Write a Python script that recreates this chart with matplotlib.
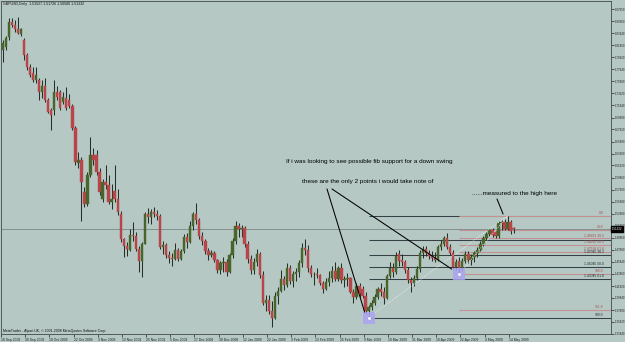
import matplotlib
matplotlib.use("Agg")
import matplotlib.pyplot as plt
import matplotlib.transforms as mtransforms
from matplotlib.patches import Rectangle

plt.rcParams['font.family'] = ['Liberation Sans', 'DejaVu Sans']

# GBPUSD daily candles, 18 Sep 2008 .. 15 May 2009
opens = [1.8115, 1.8164, 1.8330, 1.8580, 1.8530, 1.8463, 1.8380, 1.8280, 1.8031, 1.7832,
         1.7733, 1.7617, 1.7617, 1.7418, 1.7517, 1.7285, 1.7119, 1.7119, 1.7417, 1.7417,
         1.7251, 1.7318, 1.7285, 1.7185, 1.6820, 1.6239, 1.6289, 1.5741, 1.5542, 1.6040,
         1.6372, 1.6372, 1.6090, 1.5625, 1.5907, 1.5857, 1.5575, 1.5758, 1.5625, 1.5390,
         1.4960, 1.4850, 1.4780, 1.5030, 1.5010, 1.4800, 1.4600, 1.4890, 1.5390, 1.5330,
         1.5420, 1.5390, 1.5350, 1.4830, 1.4860, 1.4700, 1.4650, 1.4640, 1.4790, 1.4640,
         1.4760, 1.5000, 1.4920, 1.5190, 1.5390, 1.5280, 1.5020, 1.4940, 1.4760, 1.4700,
         1.4730, 1.4620, 1.4450, 1.4560, 1.4590, 1.4420, 1.4700, 1.4930, 1.5180, 1.5130,
         1.5150, 1.4880, 1.4640, 1.4450, 1.4580, 1.4720, 1.4370, 1.3900, 1.3950, 1.3770,
         1.3650, 1.4010, 1.4100, 1.4300, 1.4200, 1.4490, 1.4270, 1.4380, 1.4420, 1.4560,
         1.4820, 1.4780, 1.4480, 1.4390, 1.4380, 1.4370, 1.4240, 1.4130, 1.4250, 1.4320,
         1.4430, 1.4300, 1.4480, 1.4290, 1.4300, 1.4320, 1.4090, 1.4000, 1.4180, 1.4140,
         1.4020, 1.3760, 1.3830, 1.3900, 1.4000, 1.4130, 1.4080, 1.3990, 1.4350, 1.4480,
         1.4420, 1.4720, 1.4610, 1.4580, 1.4450, 1.4280, 1.4230, 1.4320, 1.4460, 1.4730,
         1.4800, 1.4740, 1.4690, 1.4650, 1.4620, 1.4830, 1.4890, 1.4980, 1.4830, 1.4740,
         1.4500, 1.4600, 1.4480, 1.4600, 1.4720, 1.4610, 1.4660, 1.4730, 1.4790, 1.4890,
         1.4990, 1.5050, 1.5110, 1.5080, 1.5010, 1.5230, 1.5250, 1.5140, 1.5250, 1.51527]
highs = [1.8280, 1.8347, 1.8646, 1.8646, 1.8612, 1.8662, 1.8480, 1.8314, 1.8065, 1.7882,
         1.7832, 1.7832, 1.7650, 1.7617, 1.7650, 1.7318, 1.7152, 1.7617, 1.7517, 1.7451,
         1.7417, 1.7500, 1.7384, 1.7218, 1.6853, 1.6422, 1.6339, 1.5824, 1.6090, 1.6671,
         1.6488, 1.6455, 1.6156, 1.5973, 1.6206, 1.6040, 1.5874, 1.6206, 1.5791, 1.5430,
         1.4990, 1.4920, 1.5140, 1.5250, 1.5090, 1.4850, 1.4920, 1.5420, 1.5480, 1.5470,
         1.5500, 1.5450, 1.5380, 1.4930, 1.4900, 1.4770, 1.4730, 1.4900, 1.4810, 1.4800,
         1.5050, 1.5060, 1.5260, 1.5420, 1.5560, 1.5310, 1.5090, 1.4970, 1.4810, 1.4780,
         1.4760, 1.4640, 1.4600, 1.4660, 1.4640, 1.4740, 1.4980, 1.5270, 1.5230, 1.5200,
         1.5190, 1.4930, 1.4700, 1.4650, 1.4800, 1.4750, 1.4430, 1.4040, 1.4030, 1.3940,
         1.4090, 1.4160, 1.4450, 1.4350, 1.4570, 1.4540, 1.4430, 1.4480, 1.4620, 1.4900,
         1.4960, 1.4870, 1.4530, 1.4420, 1.4480, 1.4390, 1.4260, 1.4310, 1.4430, 1.4520,
         1.4580, 1.4520, 1.4560, 1.4350, 1.4400, 1.4330, 1.4140, 1.4230, 1.4230, 1.4190,
         1.4080, 1.3860, 1.3950, 1.4050, 1.4170, 1.4230, 1.4160, 1.4390, 1.4590, 1.4560,
         1.4750, 1.4780, 1.4720, 1.4620, 1.4500, 1.4330, 1.4370, 1.4520, 1.4780, 1.4850,
         1.4850, 1.4790, 1.4760, 1.4750, 1.4870, 1.4950, 1.5010, 1.5060, 1.4890, 1.4780,
         1.4640, 1.4660, 1.4650, 1.4760, 1.4770, 1.4720, 1.4770, 1.4830, 1.4930, 1.5010,
         1.5080, 1.5140, 1.5150, 1.5100, 1.5260, 1.5280, 1.5300, 1.5352, 1.5290, 1.51726]
lows = [1.7915, 1.8115, 1.8280, 1.8496, 1.8413, 1.8380, 1.8347, 1.7948, 1.7783, 1.7666,
        1.7583, 1.7567, 1.7285, 1.7318, 1.7251, 1.7069, 1.6787, 1.7036, 1.7285, 1.7119,
        1.7218, 1.7119, 1.7152, 1.6787, 1.6206, 1.6156, 1.5260, 1.5492, 1.5509, 1.6000,
        1.6206, 1.6040, 1.5691, 1.5575, 1.5791, 1.5542, 1.5459, 1.5575, 1.5359, 1.4920,
        1.4665, 1.4680, 1.4760, 1.4930, 1.4760, 1.4420, 1.4335, 1.4880, 1.5230, 1.5220,
        1.5330, 1.5290, 1.4800, 1.4710, 1.4650, 1.4560, 1.4510, 1.4620, 1.4600, 1.4610,
        1.4730, 1.4820, 1.4900, 1.5120, 1.5220, 1.4960, 1.4870, 1.4720, 1.4620, 1.4660,
        1.4580, 1.4400, 1.4380, 1.4420, 1.4350, 1.4400, 1.4650, 1.4890, 1.5000, 1.5000,
        1.4840, 1.4570, 1.4380, 1.4380, 1.4520, 1.4320, 1.3860, 1.3770, 1.3720, 1.3503,
        1.3640, 1.3880, 1.4080, 1.4120, 1.4170, 1.4220, 1.4160, 1.4270, 1.4330, 1.4500,
        1.4700, 1.4420, 1.4330, 1.4200, 1.4310, 1.4200, 1.4060, 1.4120, 1.4180, 1.4250,
        1.4270, 1.4270, 1.4230, 1.4170, 1.4190, 1.4060, 1.3900, 1.3960, 1.4000, 1.3990,
        1.3720, 1.3657, 1.3780, 1.3860, 1.3960, 1.4010, 1.3880, 1.3960, 1.4320, 1.4340,
        1.4380, 1.4520, 1.4520, 1.4400, 1.4240, 1.4080, 1.4190, 1.4280, 1.4420, 1.4650,
        1.4690, 1.4630, 1.4600, 1.4580, 1.4600, 1.4790, 1.4850, 1.4800, 1.4700, 1.4460,
        1.4450, 1.4384, 1.4430, 1.4560, 1.4570, 1.4540, 1.4590, 1.4660, 1.4760, 1.4850,
        1.4950, 1.5010, 1.5000, 1.4980, 1.4990, 1.5120, 1.5110, 1.5120, 1.5050, 1.50580]
closes = [1.8231, 1.8314, 1.8580, 1.8530, 1.8463, 1.8397, 1.8463, 1.8031, 1.7832, 1.7700,
          1.7617, 1.7700, 1.7418, 1.7517, 1.7285, 1.7086, 1.7036, 1.7417, 1.7334, 1.7152,
          1.7334, 1.7152, 1.7185, 1.6820, 1.6256, 1.6289, 1.5907, 1.5542, 1.6040, 1.6372,
          1.6290, 1.6090, 1.5741, 1.5907, 1.5857, 1.5575, 1.5625, 1.5625, 1.5409, 1.4960,
          1.4850, 1.4800, 1.5030, 1.5010, 1.4800, 1.4600, 1.4890, 1.5390, 1.5330, 1.5420,
          1.5390, 1.5350, 1.4830, 1.4860, 1.4700, 1.4650, 1.4640, 1.4790, 1.4640, 1.4760,
          1.5000, 1.4920, 1.5190, 1.5390, 1.5280, 1.5020, 1.4940, 1.4760, 1.4700, 1.4730,
          1.4620, 1.4450, 1.4560, 1.4590, 1.4420, 1.4700, 1.4930, 1.5180, 1.5130, 1.5150,
          1.4880, 1.4640, 1.4450, 1.4580, 1.4720, 1.4370, 1.3900, 1.3950, 1.3770, 1.3650,
          1.4010, 1.4100, 1.4300, 1.4200, 1.4490, 1.4270, 1.4380, 1.4420, 1.4560, 1.4820,
          1.4780, 1.4480, 1.4390, 1.4380, 1.4370, 1.4240, 1.4130, 1.4250, 1.4320, 1.4430,
          1.4300, 1.4480, 1.4290, 1.4300, 1.4320, 1.4090, 1.4000, 1.4180, 1.4060, 1.4020,
          1.3760, 1.3830, 1.3900, 1.4000, 1.4130, 1.4080, 1.3990, 1.4350, 1.4480, 1.4420,
          1.4690, 1.4600, 1.4580, 1.4450, 1.4280, 1.4230, 1.4320, 1.4460, 1.4730, 1.4800,
          1.4740, 1.4690, 1.4650, 1.4620, 1.4830, 1.4890, 1.4980, 1.4830, 1.4740, 1.4500,
          1.4580, 1.4480, 1.4600, 1.4720, 1.4610, 1.4660, 1.4730, 1.4790, 1.4890, 1.4990,
          1.5050, 1.5110, 1.5040, 1.5010, 1.5230, 1.5250, 1.5140, 1.5250, 1.5100, 1.51332]

date_labels = ['18 Sep 2008', '30 Sep 2008', '10 Oct 2008', '22 Oct 2008', '3 Nov 2008',
               '13 Nov 2008', '25 Nov 2008', '5 Dec 2008', '17 Dec 2008', '30 Dec 2008',
               '12 Jan 2009', '22 Jan 2009', '3 Feb 2009', '13 Feb 2009', '25 Feb 2009',
               '9 Mar 2009', '19 Mar 2009', '31 Mar 2009', '10 Apr 2009', '22 Apr 2009',
               '4 May 2009', '14 May 2009']
price_ticks = [1.87950, 1.85960, 1.83940, 1.81960, 1.79920, 1.77940, 1.75980, 1.73920,
               1.71940, 1.69900, 1.67920, 1.65880, 1.63900, 1.61920, 1.59860, 1.57900,
               1.55880, 1.53880, 1.51860, 1.49860, 1.47880, 1.45840, 1.43860, 1.41820,
               1.39840, 1.37800, 1.35820, 1.33840]
bid = 1.51332
title_text = 'GBPUSD,Daily  1.51527 1.51726 1.50580 1.51332'
footer_text = 'MetaTrader - Alpari UK, \u00a9 2001-2008 MetaQuotes Software Corp.'

# swing points used by the two fib tools
low1_idx, low2_idx, high_idx = 121, 151, 167
dark_levels = [0.0, 23.6, 38.2, 50.0, 61.8, 100.0]
dark_shown = {38.2: True, 50.0: True, 61.8: True, 100.0: False}   # level -> with price
pink_levels = [0.0, 23.6, 38.2, 50.0, 61.8, 100.0, 161.8]
pink_shown = {0.0: False, 23.6: False, 38.2: True, 50.0: True, 61.8: True,
              100.0: False, 161.8: False}

BG = '#b5c8c4'
BULL = '#48652c'
BEAR = '#b8454a'
WICK = '#263026'
DARK = '#344046'
PINK = '#c49090'

W, H = 625, 342
fig = plt.figure(figsize=(6.25, 3.42), dpi=100, facecolor=BG)
ax = fig.add_axes([1 / W, 8 / H, 610 / W, 333 / H], facecolor=BG)


def fx(px):  # pixel x -> axes fraction
    return (px - 1) / 610


def fy(py):  # pixel y (from top) -> axes fraction
    return 1 - (py - 1) / 333


n = len(closes)
idx = list(range(n))

# candles
ax.vlines(idx, lows, highs, color=WICK, lw=0.75, zorder=3)
for i in idx:
    o, c = opens[i], closes[i]
    col = BULL if c >= o else BEAR
    h = max(abs(c - o), 0.0007)
    ax.bar(i, h, bottom=min(o, c), width=0.78, color=col, edgecolor=col,
           lw=0.3, zorder=4)

x_right = 201.2
ax.set_xlim(-0.2, x_right)
ax.set_ylim(1.3382, 1.8932)

# bid line
ax.axhline(bid, color='#7a8888', lw=0.6, zorder=2)

# fib tools
hi = highs[high_idx]
lo1 = lows[low1_idx]
lo2 = lows[low2_idx]
for lvl in dark_levels:
    p = hi - lvl / 100 * (hi - lo1)
    ax.hlines(p, low1_idx, x_right, color=DARK, lw=0.75, zorder=2)
    if lvl in dark_shown:
        txt = f'{p:.5f} {lvl:.1f}' if dark_shown[lvl] else f'{lvl:.1f}'
        ax.text(x_right - 2.5, p + 0.0008, txt, fontsize=2.4, color='#1d262b',
                ha='right', va='bottom', zorder=6)
for lvl in pink_levels:
    p = hi - lvl / 100 * (hi - lo2)
    ax.hlines(p, low2_idx, x_right, color=PINK, lw=0.75, zorder=2)
    txt = f'{p:.5f} {lvl:.1f}' if pink_shown[lvl] else f'{lvl:.1f}'
    ax.text(x_right - 2.5, p + 0.0008, txt, fontsize=2.4, color='#a54f4f',
            ha='right', va='bottom', zorder=6)

# dotted trend lines of the fib tools
ax.plot([low1_idx, high_idx], [lo1, hi], ls=(0, (1, 1.5)), color='#eef3f3', lw=0.6, zorder=5)
ax.plot([low2_idx, high_idx], [lo2, hi], ls=(0, (1, 1.5)), color='#eef3f3', lw=0.6, zorder=5)

# highlight squares on the two swing lows
for i, p in [(low1_idx, lo1), (low2_idx, lo2)]:
    ax.add_patch(Rectangle((i - 2.0, p - 0.010), 4.0, 0.020, facecolor='#aaa4f0',
                           edgecolor='none', alpha=0.85, zorder=5))
    ax.plot(i, p, marker='s', ms=0.9, color='white', zorder=6)

# comments + pointer lines
ax.text(fx(286), fy(162), 'If i was looking to see possible fib support for a down swing',
        transform=ax.transAxes, fontsize=4.6, ha='left', va='center', color='black', zorder=7)
ax.text(fx(302), fy(182), 'these are the only 2 points i would take note of',
        transform=ax.transAxes, fontsize=4.6, ha='left', va='center', color='black', zorder=7)
ax.text(fx(472), fy(194), '......measured to the high here',
        transform=ax.transAxes, fontsize=4.6, ha='left', va='center', color='black', zorder=7)
arrow = dict(arrowstyle='-', lw=0.75, color='black', shrinkA=0, shrinkB=0)
ax.annotate('', xy=(low1_idx - 1.3, lo1 + 0.009), xytext=(fx(327), fy(189)),
            xycoords='data', textcoords='axes fraction', arrowprops=arrow, zorder=7)
ax.annotate('', xy=(low2_idx - 2.5, lo2 + 0.008), xytext=(fx(332), fy(189)),
            xycoords='data', textcoords='axes fraction', arrowprops=arrow, zorder=7)
ax.annotate('', xy=(high_idx - 1.5, hi + 0.003), xytext=(fx(497), fy(199)),
            xycoords='data', textcoords='axes fraction', arrowprops=arrow, zorder=7)

# header / footer text
ax.text(fx(3), fy(4), title_text, transform=ax.transAxes, fontsize=2.6,
        ha='left', va='center', color='#101010')
ax.text(fx(3), fy(331), footer_text, transform=ax.transAxes, fontsize=2.5,
        ha='left', va='center', color='#101010')

# axes: prices on the right, dates at the bottom
ax.yaxis.tick_right()
ax.set_yticks(price_ticks)
ax.set_yticklabels([f'{v:.5f}' for v in price_ticks])
ax.set_xticks([8 * k - 0.6 for k in range(len(date_labels))])
ax.set_xticklabels(date_labels)
for lab in ax.get_xticklabels():
    lab.set_horizontalalignment('left')
ax.tick_params(axis='y', direction='out', length=2, width=0.5, pad=1,
               labelsize=2.1, colors='#202020')
ax.tick_params(axis='x', direction='out', length=2, width=0.5, pad=0.8,
               labelsize=2.4, colors='#202020')
ax.tick_params(axis='y', which='both', left=False)
for side in ['left', 'right', 'bottom', 'top']:
    ax.spines[side].set_color('#505a5a')
    ax.spines[side].set_linewidth(0.7)

# current price marker on the scale
blend = mtransforms.blended_transform_factory(ax.transAxes, ax.transData)
ax.text(1.002, bid, f'{bid:.5f}', transform=blend, fontsize=2.1, color='white',
        ha='left', va='center', clip_on=False, zorder=8,
        bbox=dict(boxstyle='square,pad=0.25', facecolor='black', edgecolor='black'))

fig.savefig('out.png', dpi=100, facecolor=BG)
